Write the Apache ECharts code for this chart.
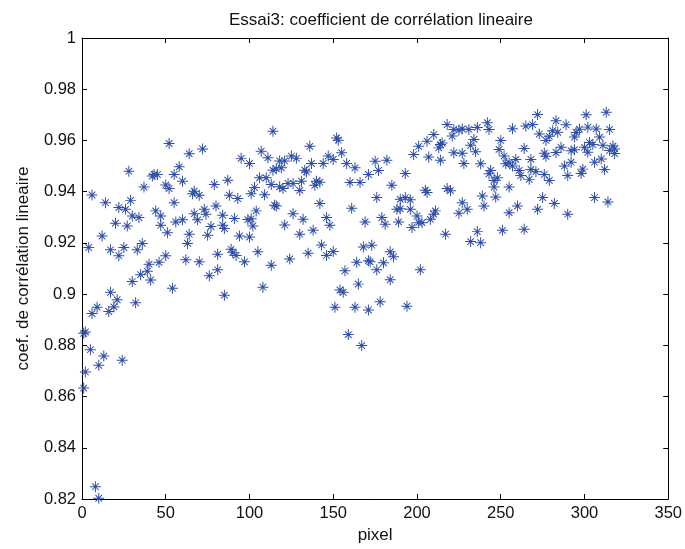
<!DOCTYPE html>
<html>
<head>
<meta charset="utf-8">
<script src="https://cdn.jsdelivr.net/npm/echarts@6/dist/echarts.min.js"></script>
<style>
html,body{margin:0;padding:0;background:#fff;}
#chart{width:685px;height:549px;}
</style>
</head>
<body>
<div id="chart"></div>
<script>
// pixel index (x) and correlation coefficient (y)
const pixel = [
8,10,1,2,5,10,13,24,1,2,6,9,16,19,21,17,32,30,35,39,40,41,46,50,54,4,12,17,22,25,33,36,20,27,6,14,22,26,29,30,34,44,47,47,51,55,56,28,37,42,43,45,50,52,55,58,52,
114,64,72,107,111,95,100,114,60,87,79,106,110,113,103,101,109,67,66,70,88,93,80,73,67,74,84,104,115,91,99,101,60,69,77,84,102,85,75,64,94,100,63,89,90,81,92,105,62,70,97,113,81,76,108,85,
152,153,136,155,125,128,147,150,118,121,137,144,158,163,116,119,133,134,171,131,140,142,123,126,118,120,139,160,166,130,142,116,161,126,132,146,148,169,121,138,130,143,168,135,146,150,124,164,171,157,165,154,156,
184,151,163,171,178,194,159,167,
218,222,225,227,210,221,206,214,215,213,201,198,207,214,222,227,228,175,182,177,193,185,205,206,218,220,176,190,193,196,227,188,190,196,211,210,225,179,189,200,201,203,208,181,197,217,173,184,186,172,180,176,202,
272,283,242,243,236,231,257,265,269,273,281,284,279,234,250,277,232,249,264,277,276,283,235,252,259,255,268,238,253,257,244,243,261,262,268,271,248,246,276,267,279,246,255,239,247,275,230,240,282,260,255,272,236,251,264,232,238,
313,301,289,297,295,302,307,315,294,309,303,305,311,317,318,315,286,292,294,300,302,318,306,310,312,292,288,299,298,290,306,314,290
];
const coef = [
0.8248,0.8203,0.8633,0.8696,0.8783,0.8722,0.8758,0.8742,0.8847,0.8852,0.8924,0.8949,0.8932,0.8950,0.8978,0.9007,0.8966,0.9049,0.9076,0.9089,0.9117,0.9055,0.9124,0.9150,0.9023,0.9182,0.9227,0.9173,0.9150,0.9182,0.9173,0.9198,0.9277,0.9266,0.9387,0.9357,0.9338,0.9331,0.9366,0.9305,0.9299,0.9325,0.9305,0.9269,0.9240,0.9357,0.9282,0.9480,0.9418,0.9461,0.9467,0.9467,0.9426,0.9412,0.9467,0.9497,0.9588,
0.9636,0.9548,0.9567,0.9558,0.9532,0.9530,0.9510,0.9484,0.9441,0.9445,0.9428,0.9454,0.9454,0.9428,0.9416,0.9392,0.9388,0.9402,0.9392,0.9386,0.9386,0.9373,0.9344,0.9331,0.9314,0.9312,0.9308,0.9325,0.9347,0.9295,0.9291,0.9294,0.9290,0.9290,0.9264,0.9269,0.9266,0.9256,0.9230,0.9234,0.9227,0.9223,0.9198,0.9175,0.9162,0.9156,0.9151,0.9165,0.9134,0.9126,0.9126,0.9113,0.9095,0.9072,0.9027,0.8996,
0.9610,0.9601,0.9577,0.9552,0.9539,0.9530,0.9539,0.9526,0.9520,0.9520,0.9510,0.9510,0.9510,0.9493,0.9489,0.9493,0.9484,0.9477,0.9467,0.9441,0.9441,0.9437,0.9432,0.9432,0.9419,0.9412,0.9425,0.9436,0.9436,0.9405,0.9354,0.9344,0.9335,0.9314,0.9292,0.9299,0.9269,0.9282,0.9270,0.9249,0.9234,0.9192,0.9184,0.9160,0.9151,0.9166,0.9137,0.9124,0.9130,0.9091,0.9039,0.9016,0.9007,
0.9056,0.8949,0.8949,0.8938,0.8970,0.8953,0.8842,0.8799,
0.9662,0.9643,0.9640,0.9645,0.9623,0.9617,0.9597,0.9584,0.9590,0.9571,0.9577,0.9545,0.9535,0.9523,0.9552,0.9550,0.9510,0.9519,0.9523,0.9483,0.9471,0.9425,0.9406,0.9397,0.9412,0.9404,0.9377,0.9370,0.9377,0.9368,0.9357,0.9331,0.9333,0.9331,0.9325,0.9312,0.9316,0.9299,0.9282,0.9305,0.9279,0.9279,0.9292,0.9273,0.9260,0.9234,0.9191,0.9165,0.9146,0.9126,0.9122,0.9095,0.9095,
0.9701,0.9677,0.9669,0.9643,0.9651,0.9643,0.9646,0.9656,0.9662,0.9625,0.9638,0.9632,0.9616,0.9604,0.9600,0.9600,0.9581,0.9565,0.9569,0.9538,0.9550,0.9553,0.9556,0.9539,0.9526,0.9513,0.9526,0.9509,0.9509,0.9500,0.9483,0.9470,0.9483,0.9463,0.9487,0.9478,0.9454,0.9444,0.9467,0.9448,0.9444,0.9418,0.9418,0.9383,0.9379,0.9377,0.9331,0.9344,0.9354,0.9344,0.9318,0.9331,0.9244,0.9249,0.9253,0.9205,0.9201,
0.9710,0.9700,0.9661,0.9644,0.9631,0.9652,0.9645,0.9643,0.9613,0.9613,0.9592,0.9584,0.9581,0.9578,0.9567,0.9561,0.9573,0.9560,0.9564,0.9573,0.9554,0.9549,0.9515,0.9528,0.9487,0.9515,0.9500,0.9488,0.9471,0.9463,0.9377,0.9360,0.9312
];
const xTicks = [0, 50, 100, 150, 200, 250, 300, 350];
const yTicks = [0.82, 0.84, 0.86, 0.88, 0.9, 0.92, 0.94, 0.96, 0.98, 1];

const titleText = 'Essai3: coefficient de corrélation lineaire';
const xName = 'pixel';
const yName = 'coef. de corrélation lineaire';

const FONT = '"Liberation Sans", Arial, Helvetica, sans-serif';
const FS = 16.5;
const STAR = 'path://M45.5 0 L54.5 0 L54.5 100 L45.5 100 Z M0 45.5 L100 45.5 L100 54.5 L0 54.5 Z ' +
  'M16.8 23.2 L23.2 16.8 L83.2 76.8 L76.8 83.2 Z M76.8 16.8 L83.2 23.2 L23.2 83.2 L16.8 76.8 Z';

const data = pixel.map((x, i) => [x, coef[i]]);

const axisLine = { show: true, onZero: false, lineStyle: { color: '#000', width: 1 } };
const tick = { show: true, inside: true, length: 5, lineStyle: { color: '#000', width: 1 } };
const labelStyle = { color: '#111', fontSize: FS, fontFamily: FONT };

const chart = echarts.init(document.getElementById('chart'), null, { renderer: 'canvas' });
chart.setOption({
  animation: false,
  backgroundColor: '#fff',
  title: {
    text: titleText,
    left: 376, top: 7, textAlign: 'center',
    textStyle: { color: '#111', fontSize: 17, fontWeight: 'normal', fontFamily: FONT }
  },
  grid: { left: 82, right: 16, top: 38, bottom: 47, containLabel: false },
  xAxis: [
    {
      type: 'value', min: xTicks[0], max: xTicks[xTicks.length - 1], interval: 50,
      position: 'bottom',
      name: xName, nameLocation: 'middle', nameGap: 28,
      nameTextStyle: { color: '#111', fontSize: 17, fontFamily: FONT },
      axisLine: axisLine, axisTick: tick,
      axisLabel: Object.assign({ margin: 6 }, labelStyle),
      splitLine: { show: false }
    },
    {
      type: 'value', min: xTicks[0], max: xTicks[xTicks.length - 1], interval: 50,
      position: 'top',
      axisLine: axisLine, axisTick: tick, axisLabel: { show: false },
      splitLine: { show: false }
    }
  ],
  yAxis: [
    {
      type: 'value', min: yTicks[0], max: yTicks[yTicks.length - 1], interval: 0.02,
      position: 'left',
      name: yName, nameLocation: 'middle', nameGap: 50, nameRotate: 90,
      nameTextStyle: { color: '#111', fontSize: 17, fontFamily: FONT },
      axisLine: axisLine, axisTick: tick,
      axisLabel: Object.assign({ margin: 6, formatter: v => String(+v.toFixed(2)) }, labelStyle),
      splitLine: { show: false }
    },
    {
      type: 'value', min: yTicks[0], max: yTicks[yTicks.length - 1], interval: 0.02,
      position: 'right',
      axisLine: axisLine, axisTick: tick, axisLabel: { show: false },
      splitLine: { show: false }
    }
  ],
  series: [{
    type: 'scatter',
    xAxisIndex: 0, yAxisIndex: 0,
    data: data,
    symbol: STAR,
    symbolSize: 11,
    itemStyle: { color: '#2f4fa8', opacity: 1 },
    emphasis: { disabled: true }
  }]
});
</script>
</body>
</html>
